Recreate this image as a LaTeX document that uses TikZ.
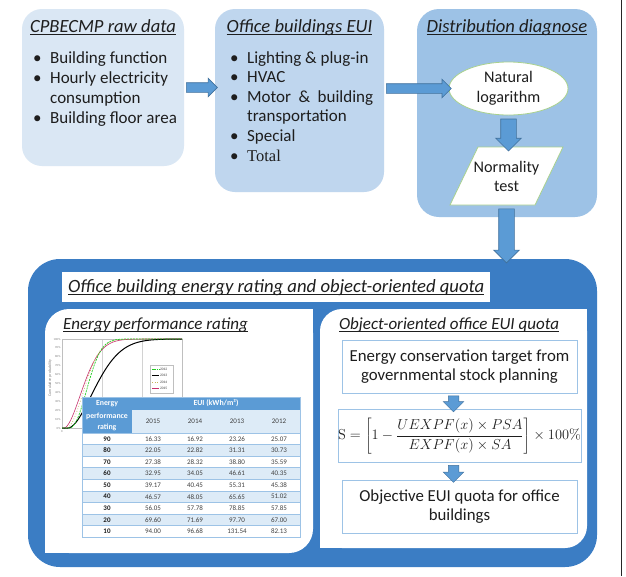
\documentclass[tikz,border=0pt]{standalone}
\usepackage[no-math]{fontspec}
\setmainfont{Carlito}
\newfontfamily\timesf{Liberation Serif}
\usetikzlibrary{shapes.geometric,shapes.arrows,calc}
\definecolor{boxA}{HTML}{DAE7F4}
\definecolor{boxB}{HTML}{BFD6EE}
\definecolor{boxC}{HTML}{9DC2E6}
\definecolor{bigblue}{HTML}{3B7DC4}
\definecolor{arrfill}{HTML}{5B9BD5}
\definecolor{arrdraw}{HTML}{41719C}
\definecolor{pgreen}{HTML}{A9D18E}
\definecolor{lblue}{HTML}{9DC3E6}
\definecolor{thead}{HTML}{5B9BD5}
\definecolor{tlight}{HTML}{DDEBF7}
\definecolor{txt}{HTML}{1E1E1E}
\definecolor{tgray}{HTML}{404040}
\definecolor{cgreen}{HTML}{22CC22}
\definecolor{cred}{HTML}{C8326E}
\definecolor{cyellow}{HTML}{C8B45A}
\newsavebox\ulbox
\newcommand\myul[1]{\sbox\ulbox{#1}\rlap{\usebox\ulbox}\rule[-2.5pt]{\wd\ulbox}{0.75pt}}
\newcommand\bul{\makebox[17pt][l]{•}}
\begin{document}
\begin{tikzpicture}[x=1pt,y=-1pt,
  every node/.style={text=txt},
  rbox/.style={rounded corners=20pt, inner sep=0pt},
  ttl/.style={font=\fontsize{18.6}{21}\selectfont\itshape, inner sep=0pt, anchor=base},
  harrow/.style={single arrow, fill=arrfill, draw=arrdraw, line width=0.6pt, inner sep=4.5pt, single arrow head extend=4.5pt, single arrow head indent=0pt, anchor=center},
  varrow/.style={single arrow, fill=arrfill, draw=arrdraw, line width=0.6pt, inner sep=7.5pt, single arrow head extend=5pt, single arrow head indent=0pt, anchor=center, rotate=-90},
  sarrow/.style={single arrow, fill=arrfill, draw=arrdraw, line width=0.5pt, inner sep=5pt, single arrow head extend=5pt, single arrow head indent=0pt, anchor=center, rotate=-90},
  qbox/.style={draw=lblue, line width=0.7pt, minimum width=235pt, minimum height=53pt, align=center, inner sep=0pt, font=\fontsize{16.8}{19.5}\selectfont},
  tick/.style={font=\fontsize{3}{3.5}\selectfont, text=gray, inner sep=0.4pt},
  legt/.style={font=\fontsize{3.6}{4}\selectfont, text=tgray, inner sep=0.3pt, anchor=west},
  hdr/.style={font=\fontsize{7.8}{8}\selectfont\bfseries, text=white, inner sep=0pt},
  yr/.style={font=\fontsize{7}{8}\selectfont, text=tgray, inner sep=0pt},
  cell/.style={font=\fontsize{7}{8}\selectfont, text=tgray, inner sep=0pt},
  ]
\useasboundingbox (0,0) rectangle (626,576);
\fill[white] (0,0) rectangle (626,576);
\draw[black!85, line width=0.9pt] (621,0) -- (621,576);

% ---- top boxes
\node[rbox, fill=boxA, minimum width=162pt, minimum height=157pt] (raw) at (103,87.5) {};
\node[rbox, fill=boxB, minimum width=169pt, minimum height=183pt] (eui) at (299.5,100.5) {};
\node[rbox, rounded corners=22pt, fill=boxC, minimum width=180pt, minimum height=208pt] (dist) at (507,113) {};

\node[ttl] (rawT) at (103,32) {\myul{CPBECMP raw data}};
\node[ttl] (euiT) at (299.5,32) {\myul{Office buildings EUI}};
\node[ttl] (distT) at (507,32) {\myul{Distribution diagnose}};

\node[inner sep=0pt, anchor=base west, font=\fontsize{17}{20}\selectfont] (rawL) at (33,63)
 {\begin{tabular}[t]{@{}l@{}l@{}}\bul&Building function\\ \bul&Hourly electricity\\ &consumption\\ \bul&Building floor area\end{tabular}};
\node[inner sep=0pt, anchor=base west, font=\fontsize{17}{19.6}\selectfont] (euiL) at (230,63)
 {\begin{tabular}[t]{@{}l@{}l@{}}\bul&Lighting \& plug-in\\ \bul&HVAC\\ \bul&Motor\hspace{7.5pt}\&\hspace{7.5pt}building\\ &transportation\\ \bul&Special\\ \bul&{\timesf\fontsize{16.5}{19.6}\selectfont Total}\end{tabular}};

% ---- distribution diagnose contents
\node[ellipse, draw=pgreen, line width=0.8pt, fill=white, minimum width=119pt, minimum height=53pt, inner sep=0pt, align=center, font=\fontsize{16.2}{20}\selectfont] (ln) at (508.5,88.5) {Natural\\logarithm};
\coordinate (ntc) at (506.5,176);
\filldraw[draw=pgreen, line width=0.8pt, fill=white] ($(ntc)+(-56.5,29)$) -- ($(ntc)+(-28.5,-29)$) -- ($(ntc)+(56.5,-29)$) -- ($(ntc)+(28.5,29)$) -- cycle;
\node[minimum width=85pt, minimum height=58pt, inner sep=0pt, align=center, font=\fontsize{16.2}{19}\selectfont] (nt) at (ntc) {Normality\\test};

% ---- big box
\node[fill=bigblue, rounded corners=32pt, minimum width=569pt, minimum height=308pt, inner sep=0pt] (big) at (312.5,413) {};

% ---- arrows
\path (raw.east) -- (raw.east -| eui.west) node[midway, harrow, minimum height=31pt] (a1) {};
\path (ln.west -| eui.east) -- (ln.west) node[midway, harrow, minimum height=65pt] (a2) {};
\path (ln.south) -- (ln.south |- nt.north) node[midway, varrow, minimum height=32pt] (a3) {};
\path (nt.south) -- (nt.south |- big.north) node[midway, varrow, minimum height=54pt] (a4) {};

% ---- title bar
\node[fill=white, minimum width=428pt, minimum height=30pt, inner sep=0pt] (bar) at (276,287) {};
\node[anchor=base west, inner sep=0pt, font=\fontsize{18.7}{21}\selectfont\itshape] (barT) at (68,292.5) {\myul{Office building energy rating and object-oriented quota}};

% ---- panels
\fill[white, rounded corners=24pt] (45,309) rectangle (313,553);
\fill[white] (200,309) rectangle (313,420);
\fill[white] (45,430) rectangle (200,553);
\fill[white, rounded corners=22pt] (320,309) rectangle (587,548);
\fill[white] (450,309) rectangle (587,420);
\fill[white] (320,430) rectangle (450,548);

\node[anchor=base, inner sep=0pt, font=\fontsize{17}{19}\selectfont\itshape] (rateT) at (155.5,329) {\myul{Energy performance rating}};
\node[anchor=base, inner sep=0pt, font=\fontsize{17}{19}\selectfont\itshape] (quotaT) at (449,329) {\myul{Object-oriented office EUI quota}};

% ---- quota boxes
\node[qbox] (qa) at (459.5,366.5) {Energy conservation target from\\governmental stock planning};
\node[qbox] (qb) at (459.5,436) {\fontsize{13.5}{16}\selectfont$\displaystyle \mathrm{S}=\left[1-\frac{UEXPF(x)\times PSA}{EXPF(x)\times SA}\right]\times 100\%$};
\node[qbox] (qc) at (459.5,506.5) {Objective EUI quota for office\\buildings};
\path ($(qa.south)+(-6,0)$) -- ($(qb.north)+(-6,0)$) node[midway, sarrow, minimum height=16pt] (a5) {};
\path ($(qb.south)+(-6,0)$) -- ($(qc.north)+(-6,0)$) node[midway, sarrow, minimum height=17pt] (a6) {};

% ---- chart
\foreach \gx in {102,142} \draw[gray!35, line width=0.3pt] (\gx,339) -- (\gx,428);
\draw[gray!50, line width=0.3pt] (62,339) rectangle (182,428);
\foreach \k [evaluate=\k as \lab using int(10*\k)] in {0,...,10}
  \node[tick, anchor=east] (yt\k) at (61,{428-8.9*\k}) {\lab\%};
\node[tick, rotate=90, font=\fontsize{4}{4.5}\selectfont] (yax) at (50,378) {Cumulative probability};
\node[tick, anchor=north] (xt0) at (62,429.5) {0};
\begin{scope}
\clip (62,334) rectangle (183,428.6);
\draw[cred, line width=0.6pt] (62,428) -- plot[domain=2.05:120, samples=90] ({62+\x},{428-89*(1-exp(-pow((\x-2)/25,1.8)))});
\draw[cyellow, line width=0.7pt, dotted] (62,428) -- plot[domain=4.05:120, samples=90] ({62+\x},{428-89*(1-exp(-pow((\x-4)/24,2.0)))});
\draw[black, line width=1pt] (62,428) -- plot[domain=6.05:120, samples=90] ({62+\x},{428-89*(1-exp(-pow((\x-6)/36,1.8)))});
\draw[cgreen, line width=0.7pt, dash pattern=on 2pt off 1pt] (62,428) -- plot[domain=7.05:120, samples=90] ({62+\x},{428-89*(1-exp(-pow((\x-7)/23,2.2)))});
\end{scope}
\node[draw=gray!50, fill=white, line width=0.3pt, minimum width=23pt, minimum height=28pt, inner sep=0pt] (leg) at (161.5,379) {};
\draw[cgreen, line width=0.6pt, dash pattern=on 1.5pt off 0.8pt] (152,369) -- (159,369);
\node[legt] (l1) at (159.5,369) {2012};
\draw[black, line width=0.9pt] (152,375.5) -- (159,375.5);
\node[legt] (l2) at (159.5,375.5) {2013};
\draw[cyellow, line width=0.6pt, dotted] (152,382) -- (159,382);
\node[legt] (l3) at (159.5,382) {2014};
\draw[cred, line width=0.6pt] (152,388.5) -- (159,388.5);
\node[legt] (l4) at (159.5,388.5) {2015};

% ---- table
\fill[thead] (82,397) rectangle (300,410);
\fill[thead] (82,410) rectangle (132,433);
\fill[tlight] (132,410) rectangle (300,433);
\node[hdr] (h1) at (107,404) {Energy};
\node[hdr] (h2) at (107,416) {performance};
\node[hdr] (h3) at (107,427) {rating};
\node[hdr] (h4) at (216,403.5) {EUI (kWh/m²)};
\node[yr] (y1) at (153,421.5) {2015};
\node[yr] (y2) at (195,421.5) {2014};
\node[yr] (y3) at (237,421.5) {2013};
\node[yr] (y4) at (279,421.5) {2012};
\foreach \r/\a/\b/\c/\d [count=\i from 0] in {90/16.33/16.92/23.26/25.07, 80/22.05/22.82/31.31/30.73, 70/27.38/28.32/38.80/35.59, 60/32.95/34.05/46.61/40.35, 50/39.17/40.45/55.31/45.38, 40/46.57/48.05/65.65/51.02, 30/56.05/57.78/78.85/57.85, 20/69.60/71.69/97.70/67.00, 10/94.00/96.68/131.54/82.13}{
  \pgfmathsetmacro\yt{433+11.56*\i}
  \pgfmathsetmacro\yc{\yt+5.9}
  \ifodd\i \fill[tlight] (82,\yt) rectangle (300,\yt+11.56); \fi
  \draw[lblue, line width=0.4pt] (82,\yt) -- (300,\yt);
  \node[cell, font=\fontsize{7}{8}\selectfont\bfseries, text=txt] (r\i c0) at (107,\yc) {\r};
  \node[cell] (r\i c1) at (153,\yc) {\a};
  \node[cell] (r\i c2) at (195,\yc) {\b};
  \node[cell] (r\i c3) at (237,\yc) {\c};
  \node[cell] (r\i c4) at (279,\yc) {\d};
}
\draw[lblue, line width=0.5pt] (82,397) rectangle (300,537);
\end{tikzpicture}
\end{document}
